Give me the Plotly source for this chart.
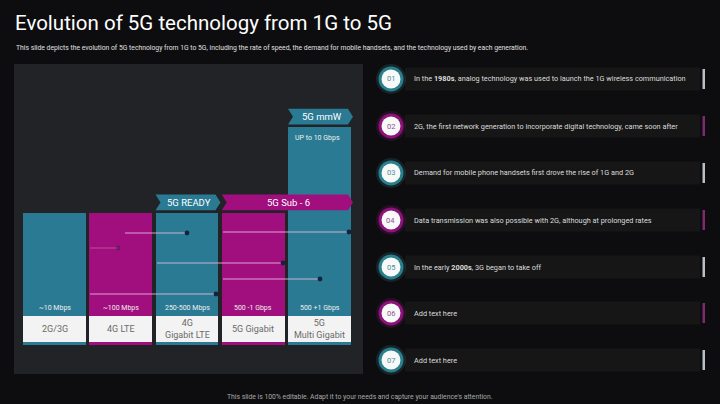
import plotly.graph_objects as go

W, H = 720, 404

# ---------------- data ----------------
title = "Evolution of 5G technology from 1G to 5G"
subtitle = ("This slide depicts the evolution of 5G technology from 1G to 5G, including the rate of speed, "
            "the demand for mobile handsets, and the technology used by each generation.")
footer = "This slide is 100% editable. Adapt it to your needs and capture your audience's attention."

generations = ["2G/3G", "4G LTE", "4G<br>Gigabit LTE", "5G Gigabit", "5G<br>Multi Gigabit"]
speed_labels = ["~10 Mbps", "~100 Mbps", "250-500 Mbps", "500 -1 Gbps", "500 +1 Gbps"]
bar_heights = [1.0, 1.0, 1.0, 1.0, 1.65]          # relative display heights
top_note = "UP to 10 Gbps"

band_labels = ["5G READY", "5G Sub - 6", "5G mmW"]
band_start = [2, 3, 4]       # first bar index covered
band_end = [2, 4, 4]         # last bar index covered

step_numbers = ["01", "02", "03", "04", "05", "06", "07"]
step_texts = [
    "In the <b>1980s</b>, analog technology was used to launch the 1G wireless communication",
    "2G, the first network generation to incorporate digital technology, came soon after",
    "Demand for mobile phone handsets first drove the rise of 1G and 2G",
    "Data transmission was also possible with 2G, although at prolonged rates",
    "In the early <b>2000s</b>, 3G began to take off",
    "Add text here",
    "Add text here",
]

# ---------------- styles ----------------
BG = "#0d0d0f"
PANEL = "#222326"
TEAL = "#2a7a94"
MAG = "#a10f7e"
WHITE_BOX = "#f3f3f3"
palette = [TEAL, MAG]
bar_colors = [palette[i % 2] for i in range(len(generations))]
FONT = "Roboto"


def px(x):
    return x / W


def py(y):
    return 1 - y / H


x_idx = list(range(len(generations)))
BAR_W = 0.95

fig = go.Figure()
# coloured bars
fig.add_trace(go.Bar(x=x_idx, y=bar_heights, width=BAR_W, marker=dict(color=bar_colors, line=dict(width=0)),
                     hoverinfo="skip", showlegend=False))
# white label plates
LABEL_BASE, LABEL_H = 0.023, 0.197
fig.add_trace(go.Bar(x=x_idx, y=[LABEL_H] * len(x_idx), base=[LABEL_BASE] * len(x_idx), width=BAR_W,
                     marker=dict(color=WHITE_BOX, line=dict(width=0)), hoverinfo="skip", showlegend=False))

shapes = []
annotations = []


def ann(**kw):
    kw.setdefault("showarrow", False)
    kw.setdefault("yanchor", "middle")
    kw.setdefault("xanchor", "center")
    annotations.append(kw)


# panel (below)
shapes.append(dict(type="rect", xref="paper", yref="paper", x0=px(14), x1=px(363), y0=py(374), y1=py(64),
                   fillcolor=PANEL, line=dict(width=0), layer="below"))

# labels on bars
for i in x_idx:
    ann(x=i, y=LABEL_BASE + LABEL_H / 2, xref="x", yref="y", text=generations[i],
        font=dict(family=FONT, size=9, color="#6a6a6a"), align="center")
    ann(x=i, y=0.28, xref="x", yref="y", text=speed_labels[i],
        font=dict(family=FONT, size=7, color="#f0f0f0"))
ann(x=4 - 0.4, y=bar_heights[4] - 0.085, xref="x", yref="y", text=top_note, xanchor="left",
    font=dict(family=FONT, size=7, color="#f0f0f0"))

# band chevrons
TIP = 0.075
band_colors = [TEAL, MAG, TEAL]
for k, lab in enumerate(band_labels):
    h = bar_heights[band_start[k]]
    y0, y1 = h + 0.02, h + 0.14
    ym = (y0 + y1) / 2
    xa = band_start[k] - BAR_W / 2
    xb = band_end[k] + BAR_W / 2 + 0.03
    path = (f"M {xa},{y1} L {xb - TIP},{y1} L {xb},{ym} L {xb - TIP},{y0} "
            f"L {xa},{y0} L {xa + TIP},{ym} Z")
    shapes.append(dict(type="path", xref="x", yref="y", path=path, fillcolor=band_colors[k],
                       line=dict(width=0), layer="above"))
    ann(x=(xa + xb) / 2 + 0.02, y=ym, xref="x", yref="y", text=lab,
        font=dict(family=FONT, size=9.5, color="#ffffff"))

# decorative connector lines with dots (pixel positions)
deco = [(125, 187, 233, 1.0), (90, 118, 248, 0.35), (157, 283, 263, 1.0),
        (223, 320, 279, 1.0), (90, 216, 294, 1.0), (223, 349, 232, 1.0)]
for xa, xb, yy, a in deco:
    shapes.append(dict(type="line", xref="paper", yref="paper", x0=px(xa), x1=px(xb), y0=py(yy), y1=py(yy),
                       line=dict(color=f"rgba(235,185,222,{0.85 * a})", width=1.2), layer="above"))
    r = 2.4
    shapes.append(dict(type="circle", xref="paper", yref="paper", x0=px(xb - r), x1=px(xb + r),
                       y0=py(yy + r), y1=py(yy - r), fillcolor=f"rgba(20,35,60,{a})",
                       line=dict(width=0), layer="above"))

# right list
row_y = [79, 126, 173, 220, 267, 313, 360]
for k, yc in enumerate(row_y):
    teal = (k % 2 == 0)
    ring = "#2a7f8c" if teal else "#8d137a"
    accent = "#b9c0c3" if teal else "#7d2a6e"
    numc = "#4f8c95" if teal else "#93508a"
    shapes.append(dict(type="rect", xref="paper", yref="paper", x0=px(405), x1=px(700), y0=py(yc + 11.5),
                       y1=py(yc - 11.5), fillcolor="#161617", line=dict(width=0), layer="below"))
    shapes.append(dict(type="rect", xref="paper", yref="paper", x0=px(702.5), x1=px(705), y0=py(yc + 10),
                       y1=py(yc - 10), fillcolor=accent, line=dict(width=0), layer="below"))
    cx = 391
    for r, col in [(15, "rgba(60,150,160,0.18)" if teal else "rgba(160,30,140,0.18)"), (12.5, ring),
                   (9.5, "#f7f9f9")]:
        shapes.append(dict(type="circle", xref="paper", yref="paper", x0=px(cx - r), x1=px(cx + r),
                           y0=py(yc + r), y1=py(yc - r), fillcolor=col, line=dict(width=0), layer="above"))
    ann(x=px(cx), y=py(yc), xref="paper", yref="paper", text=step_numbers[k],
        font=dict(family=FONT, size=7.5, color=numc))
    ann(x=px(412), y=py(yc), xref="paper", yref="paper", text=step_texts[k], xanchor="left",
        font=dict(family=FONT, size=7.3, color="#dcdcdc"))

# titles
ann(x=px(13), y=py(23), xref="paper", yref="paper", text=title, xanchor="left",
    font=dict(family=FONT, size=20.5, color="#ffffff"))
ann(x=px(14), y=py(48), xref="paper", yref="paper", text=subtitle, xanchor="left",
    font=dict(family=FONT, size=6.8, color="#e0e0e0"))
ann(x=px(360), y=py(397), xref="paper", yref="paper", text=footer,
    font=dict(family=FONT, size=6.8, color="#a8a8a8"))

x_lo = (14 - 54.5) / 66.25
x_hi = (363 - 54.5) / 66.25
y_lo = (345 - 374) / 132
y_hi = (345 - 64) / 132

fig.update_layout(
    width=W, height=H, margin=dict(l=0, r=0, t=0, b=0), autosize=False,
    paper_bgcolor=BG, plot_bgcolor="rgba(0,0,0,0)",
    barmode="overlay", bargap=0,
    xaxis=dict(domain=[px(14), px(363)], range=[x_lo, x_hi], visible=False, fixedrange=True),
    yaxis=dict(domain=[py(374), py(64)], range=[y_lo, y_hi], visible=False, fixedrange=True),
    shapes=shapes, annotations=annotations, showlegend=False,
)

fig.write_html("out.html", config={"displayModeBar": False},
               post_script="document.body.style.margin='0';document.body.style.overflow='hidden';")
